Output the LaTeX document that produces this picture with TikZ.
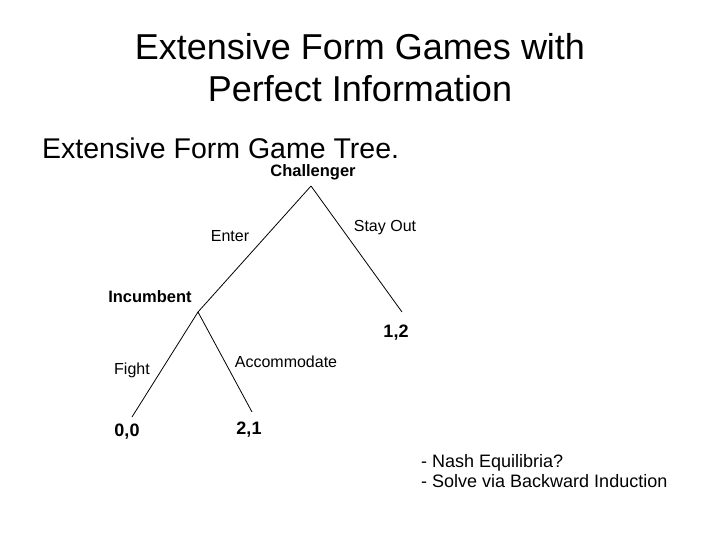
\documentclass[tikz,border=0pt]{standalone}
\usepackage{fontspec}
\setmainfont{Liberation Sans}
\usetikzlibrary{positioning}
\usetikzlibrary{calc}

\begin{document}
\begin{tikzpicture}[x=1pt, y=-1pt,
                    every node/.style={inner sep=0pt},
                    title/.style={font=\fontsize{36}{42}\selectfont},
                    player/.style={font=\fontsize{16.5}{20}\selectfont\bfseries},
                    payoff/.style={font=\fontsize{18}{20}\selectfont\bfseries},
                    move/.style={font=\fontsize{16}{20}\selectfont},
                    branch/.style={draw, line width=0.8pt}]
    \useasboundingbox[fill=white] (0,0) rectangle (720,540);

    % titel
    \node[title] (t1) at (360,47) {Extensive Form Games with};
    \node[title] (t2) at (360,89) {Perfect Information};
    \node[font=\fontsize{28.5}{34}\selectfont, anchor=west] (sub) at (42,148) {Extensive Form Game Tree.};

    % knoten
    \coordinate (c) at (311,186);
    \coordinate (i) at (198,312);
    \coordinate (s) at (402,312);
    \coordinate (f) at (132,417);
    \coordinate (a) at (252,412);

    \draw[branch] (c) -- (i);
    \draw[branch] (c) -- (s);
    \draw[branch] (i) -- (f);
    \draw[branch] (i) -- (a);

    \node[player] (chal) at (313,172) {Challenger};
    \node[player] (inc) at (150,297) {Incumbent};
    \node[move] (enter) at (230,236) {Enter};
    \node[move] (stay) at (385,228) {Stay Out};
    \node[move] (fight) at (132,370) {Fight};
    \node[move] (acc) at (286,362) {Accommodate};
    \node[payoff] (p12) at (396,333) {1,2};
    \node[payoff] (p00) at (127,432) {0,0};
    \node[payoff] (p21) at (249,430) {2,1};

    % fragen
    \node[font=\fontsize{18}{20}\selectfont, anchor=west, align=left] (q) at (421,471)
        {- Nash Equilibria?\\- Solve via Backward Induction};
\end{tikzpicture}
\end{document}
